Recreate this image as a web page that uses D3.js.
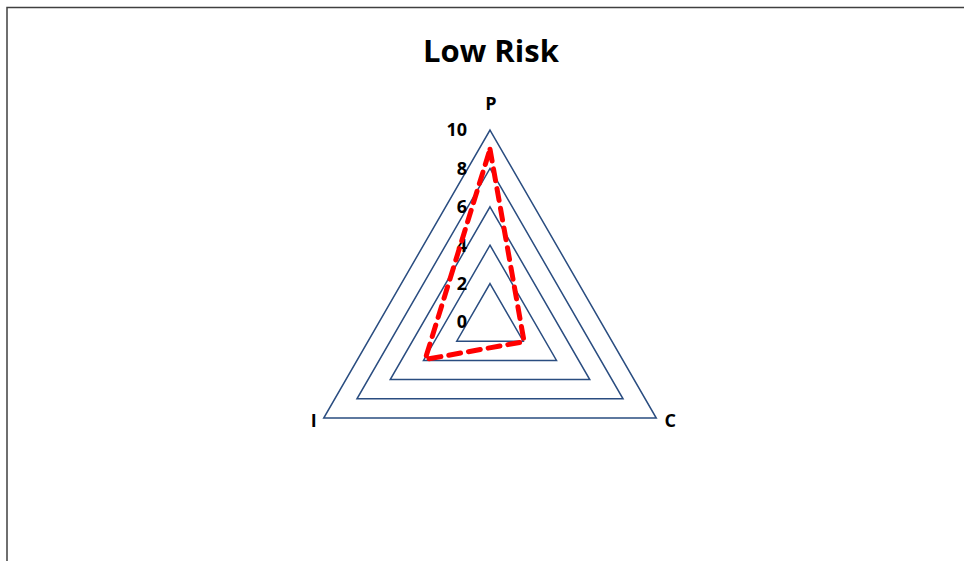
<!DOCTYPE html>
<html><head><meta charset="utf-8">
<script src="https://cdn.jsdelivr.net/npm/d3@7"></script>
<style>html,body{margin:0;padding:0;background:#fff;}</style>
</head><body>
<svg id="c" width="964" height="561"></svg>
<script>
const categories = ["P", "C", "I"];
const values = [9, 2.05, 3.9];
const tickValues = [0, 2, 4, 6, 8, 10];
const title = "Low Risk";

const svg = d3.select("#c");
svg.append("rect").attr("x", 7).attr("y", 7.5).attr("width", 1000).attr("height", 600)
  .attr("fill", "#fff").attr("stroke", "#404040").attr("stroke-width", 1.5);

const cx = 490, cy = 322, R = 192;
const r = d3.scaleLinear().domain([0, 10]).range([0, R]);
const angle = i => i * 2 * Math.PI / categories.length;
const pt = (i, v) => [cx + r(v) * Math.sin(angle(i)), cy - r(v) * Math.cos(angle(i))];
const line = d3.line().curve(d3.curveLinearClosed);
const font = "Open Sans, sans-serif";

svg.append("text").attr("x", 491).attr("y", 62).attr("text-anchor", "middle")
  .attr("font-family", font).attr("font-weight", "bold").attr("font-size", 31)
  .attr("fill", "#000").text(title);

tickValues.filter(t => t > 0).forEach(t => {
  svg.append("path").attr("d", line(categories.map((c, i) => pt(i, t))))
    .attr("fill", "none").attr("stroke", "#2A4D80").attr("stroke-width", 1.5);
});

tickValues.forEach(t => {
  svg.append("text").attr("x", cx - 23).attr("y", cy - r(t)).attr("dy", "0.35em")
    .attr("text-anchor", "end").attr("font-family", font)
    .attr("font-weight", "bold").attr("font-size", 18).attr("fill", "#000").text(t);
});

const labOff = [[1, -26], [14, 3], [-10, 3]];
categories.forEach((c, i) => {
  const p = pt(i, 10);
  svg.append("text").attr("x", p[0] + labOff[i][0]).attr("y", p[1] + labOff[i][1]).attr("dy", "0.35em")
    .attr("text-anchor", "middle").attr("font-family", font)
    .attr("font-weight", "bold").attr("font-size", 18).attr("fill", "#000").text(c);
});

svg.append("path").attr("d", line(values.map((v, i) => pt(i, v))))
  .attr("fill", "none").attr("stroke", "#FF0000").attr("stroke-width", 5)
  .attr("stroke-dasharray", "12,8").attr("stroke-linejoin", "round").attr("stroke-linecap", "round");
</script>
</body></html>
